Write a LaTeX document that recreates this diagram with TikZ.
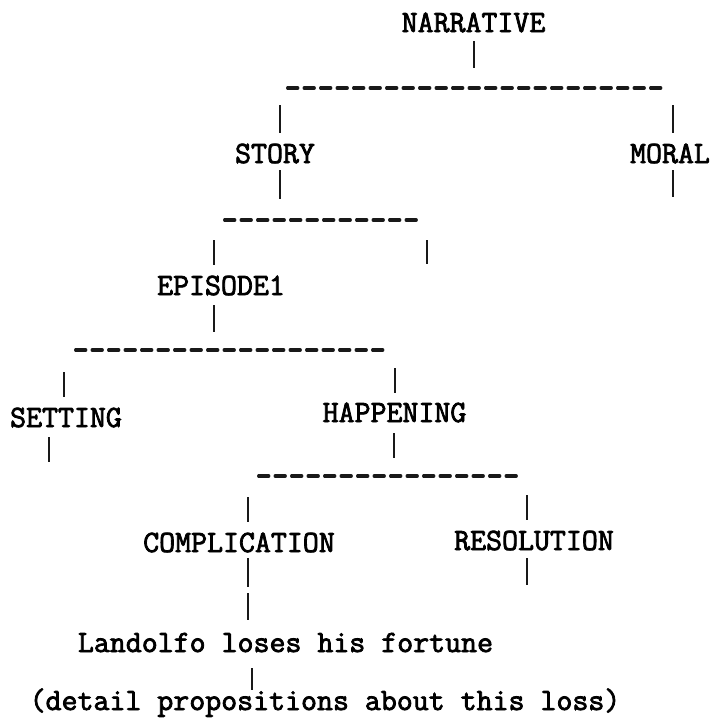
\documentclass[tikz,border=0pt]{standalone}
\usepackage{fontspec}
\newfontfamily\tw[FakeBold=2.5]{Latin Modern Mono}
\begin{document}
\begin{tikzpicture}[x=1pt,y=-1pt,
  lbl/.style={anchor=base,inner sep=0pt,outer sep=0pt,font=\tw\fontsize{31}{34}\selectfont},
  vl/.style={line width=1.9pt,black!90},
  hl/.style={line width=3.2pt,black!90,line cap=round,dash pattern=on 10.2pt off 6.3pt}]
\useasboundingbox (0,0) rectangle (714,718);
% text nodes
\node[lbl] (narr)    at (473.5,32)  {NARRATIVE};
\node[lbl] (story)   at (275,163)   {STORY};
\node[lbl] (moral)   at (670,163)   {MORAL};
\node[lbl] (ep)      at (221,295)   {EPISODE1};
\node[lbl] (setting) at (66,427)    {SETTING};
\node[lbl] (happ)    at (394.5,422) {HAPPENING};
\node[lbl] (comp)    at (239,552)   {COMPLICATION};
\node[lbl] (res)     at (534,550)   {RESOLUTION};
\node[lbl] (land)    at (285.5,652) {Landolfo loses his fortune};
\node[lbl] (detail)  at (325,710)   {(detail propositions about this loss)};
% bars
\coordinate (b1l) at (287.6,88);  \coordinate (b1r) at (660.8,88);
\coordinate (b2l) at (224.6,220); \coordinate (b2r) at (416.3,220);
\coordinate (b3l) at (75.6,350);  \coordinate (b3r) at (382.8,350);
\coordinate (b4l) at (258.6,476); \coordinate (b4r) at (516.3,476);
\draw[hl] (b1l) -- (b1r);
\draw[hl] (b2l) -- (b2r);
\draw[hl] (b3l) -- (b3r);
\draw[hl] (b4l) -- (b4r);
% vertical connector segments: name/x/top/bottom
\foreach \n/\x/\a/\b in {
  narrdown/474/41/68,
  tostory/280/105/133, tomoral/673/105/133,
  storydown/280/170/199, moraldown/673/170/197,
  toep/214/240/265, story2/427/240/264,
  epdown/214/305/332,
  toset/64/372/397, tohapp/395/368/393,
  setdown/49/437/462, happdown/394/433/458,
  tocomp/248/497/522, tores/527/495/520,
  compdown/248/558/587, complink/248/593/620, resdown/527/558/585,
  landdown/252/668/690}{
  \coordinate (\n t) at (\x,\a);
  \coordinate (\n b) at (\x,\b);
  \draw[vl] (\n t) -- (\n b);
}
\end{tikzpicture}
\end{document}
